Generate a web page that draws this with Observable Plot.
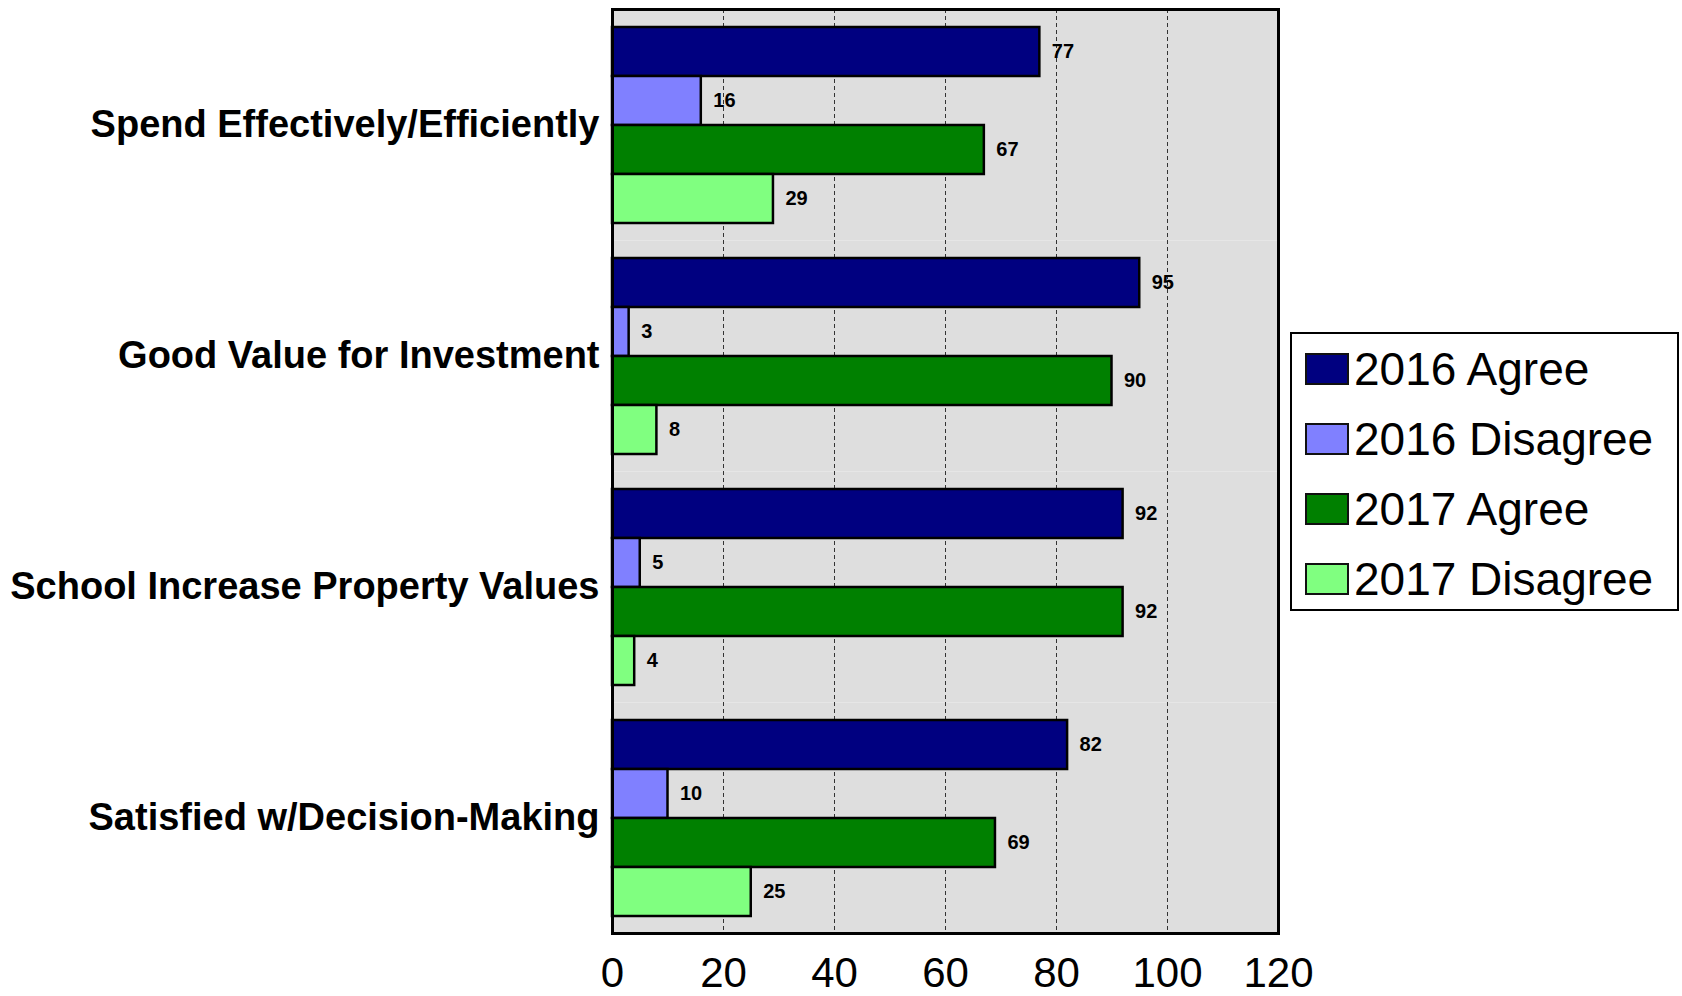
<!DOCTYPE html>
<html>
<head>
<meta charset="utf-8">
<script src="https://cdn.jsdelivr.net/npm/d3@7"></script>
<script src="https://cdn.jsdelivr.net/npm/@observablehq/plot@0.6"></script>
<style>
  body { margin: 0; background: #fff; font-family: Arial, "Liberation Sans", Helvetica, sans-serif; }
  #wrap { position: relative; width: 1682px; height: 996px; }
  #legend { position: absolute; left: 1290px; top: 332px; width: 385px; height: 275px;
            border: 2.5px solid #000; background: #fff; box-sizing: content-box; }
  .item { position: absolute; left: 0; height: 70px; display: flex; align-items: center; }
  .sw { width: 40px; height: 28px; border: 2px solid #111; margin-left: 13px; margin-right: 5px; }
  .lab { font-size: 46px; color: #000; white-space: nowrap; }
  g[aria-label^="fy-axis"] text { font-size: 38px; font-weight: bold; fill: #000; }
  g[aria-label^="x-axis"] text { font-size: 42px; fill: #000; }
</style>
</head>
<body>
<div id="wrap"><div id="chart"></div><div id="legend"></div></div>
<script>
const categories = ["Spend Effectively/Efficiently", "Good Value for Investment", "School Increase Property Values", "Satisfied w/Decision-Making"];
const series = ["2016 Agree", "2016 Disagree", "2017 Agree", "2017 Disagree"];
const colors = ["#000080", "#8080ff", "#008000", "#80ff80"];
const agree2016 = [77, 95, 92, 82];
const disagree2016 = [16, 3, 5, 10];
const agree2017 = [67, 90, 92, 69];
const disagree2017 = [29, 8, 4, 25];
const xTicks = [0, 20, 40, 60, 80, 100, 120];
const gridTicks = [20, 40, 60, 80, 100];

const seriesValues = [agree2016, disagree2016, agree2017, disagree2017];
const data = [];
categories.forEach((c, i) => series.forEach((s, j) => data.push({category: c, series: s, value: seriesValues[j][i]})));

const plot = Plot.plot({
  width: 1682,
  height: 996,
  marginLeft: 612,
  marginRight: 404,
  marginTop: 7,
  marginBottom: 62,
  style: {fontFamily: 'Arial, "Liberation Sans", Helvetica, sans-serif', background: "transparent", color: "#000"},
  x: {domain: [0, 120], ticks: xTicks, tickSize: 0, tickPadding: 24, label: null},
  y: {domain: series, axis: null, paddingInner: 0, paddingOuter: 0.35},
  fy: {domain: categories, padding: 0, axis: "left", tickSize: 0, tickPadding: 13, label: null},
  color: {domain: series, range: colors},
  marks: [
    Plot.frame({fill: "#dedede"}),
    Plot.ruleX(gridTicks, {stroke: "#333", strokeWidth: 1, strokeDasharray: "4,3"}),
    Plot.barX(data, {x: "value", y: "series", fy: "category", fill: "series", stroke: "#000", strokeWidth: 2.5}),
    Plot.text(data, {x: "value", y: "series", fy: "category", text: d => String(d.value), dx: 12, textAnchor: "start", fontWeight: "bold", fontSize: 20, fill: "#000"}),
    Plot.frame({stroke: "#000", strokeWidth: 3, facet: "super"})
  ]
});
document.getElementById("chart").appendChild(plot);

const legend = document.getElementById("legend");
series.forEach((s, i) => {
  const item = document.createElement("div");
  item.className = "item";
  item.style.top = (i * 70) + "px";
  const sw = document.createElement("div");
  sw.className = "sw";
  sw.style.background = colors[i];
  const lab = document.createElement("span");
  lab.className = "lab";
  lab.textContent = s;
  item.appendChild(sw); item.appendChild(lab);
  legend.appendChild(item);
});
</script>
</body>
</html>
